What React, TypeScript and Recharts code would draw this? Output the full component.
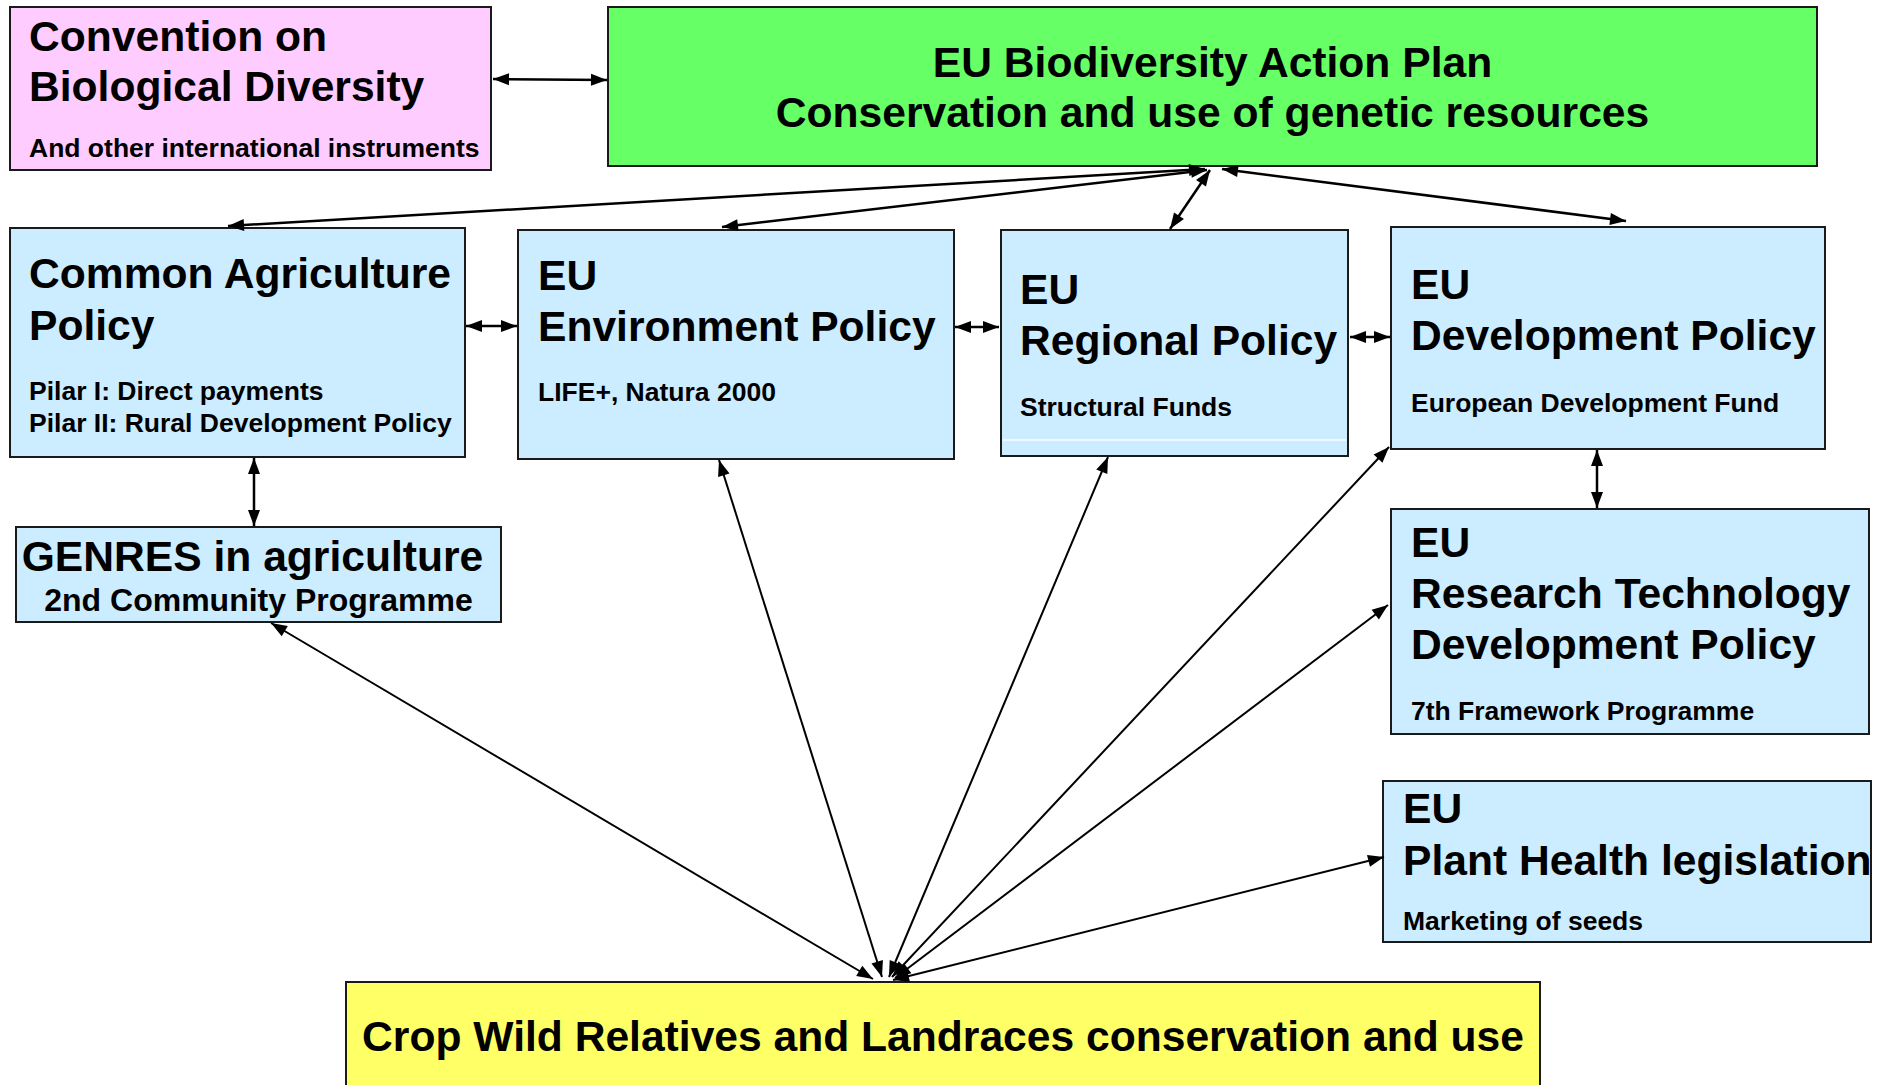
import React from "react";
import { ComposedChart, XAxis, YAxis, ReferenceArea, ReferenceLine } from "recharts";

const W = 1881;
const H = 1085;

// boxes of the diagram, in picture units (x to the right, y downwards)
const boxIds = ["cbd", "bap", "cap", "env", "reg", "dev", "genres", "rtd", "plant", "cwr"];
const boxLeft = [10, 608, 10, 518, 1001, 1391, 16, 1391, 1383, 346];
const boxRight = [491, 1817, 465, 954, 1348, 1825, 501, 1869, 1871, 1540];
const boxTop = [7, 7, 228, 230, 230, 227, 527, 509, 781, 982];
const boxBottom = [170, 166, 457, 459, 456, 449, 622, 734, 942, 1090];

const boxTitles = [
    ["Convention on", "Biological Diversity"],
    ["EU Biodiversity Action Plan", "Conservation and use of genetic resources"],
    ["Common Agriculture", "Policy"],
    ["EU", "Environment Policy"],
    ["EU", "Regional Policy"],
    ["EU", "Development Policy"],
    ["GENRES in agriculture"],
    ["EU", "Research Technology", "Development Policy"],
    ["EU", "Plant Health legislation"],
    ["Crop Wild Relatives and Landraces conservation and use"],
];
const boxNotes = [
    ["And other international instruments"],
    [],
    ["Pilar I: Direct payments", "Pilar II: Rural Development Policy"],
    ["LIFE+, Natura 2000"],
    ["Structural Funds"],
    ["European Development Fund"],
    ["2nd Community Programme"],
    ["7th Framework Programme"],
    ["Marketing of seeds"],
    [],
];

// double-headed links: [x1, y1, x2, y2]
const links = [
    [493, 79, 607, 80],
    [1205, 169, 228, 226],
    [1207, 170, 722, 227],
    [1210, 170, 1170, 229],
    [1222, 169, 1626, 221],
    [466, 326, 517, 326],
    [955, 327, 999, 327],
    [1350, 337, 1390, 337],
    [254, 458, 254, 526],
    [1597, 450, 1597, 508],
];
const spokes = [
    [873, 979, 271, 623],
    [882, 977, 719, 460],
    [889, 977, 1108, 457],
    [892, 977, 1389, 447],
    [895, 978, 1388, 605],
    [893, 980, 1384, 857],
];

// look of each box: fill, text anchor, first baselines and gaps (offsets from box top)
const boxLook: Record<string, any> = {
    cbd: { fill: "#FFCCFF", dx: 19, t0: 44, tg: 50, n0: 150, ng: 32, ns: 26.5 },
    bap: { fill: "#66FF66", center: true, t0: 70, tg: 50, n0: 0, ng: 0, ns: 26.5 },
    cap: { fill: "#CCECFF", dx: 19, t0: 60, tg: 52, n0: 172, ng: 32, ns: 26.5 },
    env: { fill: "#CCECFF", dx: 20, t0: 60, tg: 51, n0: 171, ng: 32, ns: 26.5 },
    reg: { fill: "#CCECFF", dx: 19, t0: 74, tg: 51, n0: 186, ng: 32, ns: 26.5, seam: 210 },
    dev: { fill: "#CCECFF", dx: 20, t0: 72, tg: 51, n0: 185, ng: 32, ns: 26.5 },
    genres: { fill: "#CCECFF", center: true, tdx: -6, t0: 44, tg: 50, n0: 84, ng: 32, ns: 32 },
    rtd: { fill: "#CCECFF", dx: 20, t0: 48, tg: 51, n0: 211, ng: 32, ns: 26.5 },
    plant: { fill: "#CCECFF", dx: 20, t0: 42, tg: 52, n0: 149, ng: 32, ns: 26.5 },
    cwr: { fill: "#FFFF66", center: true, t0: 69, tg: 50, n0: 0, ng: 0, ns: 26.5 },
};

const FONT = "'Liberation Sans', Arial, Helvetica, sans-serif";
const TITLE_SIZE = 42.6;

const makeBox = (i: number) => (p: any) => {
    const { x, y, width, height } = p;
    const look = boxLook[boxIds[i]];
    const tx = look.center ? x + width / 2 : x + look.dx;
    const anchor = look.center ? "middle" : "start";
    return (
        <g>
            <rect x={x} y={y} width={width} height={height} fill={look.fill} stroke="#1a1a1a" strokeWidth={2} />
            {look.seam && (
                <line x1={x + 2} x2={x + width - 2} y1={y + look.seam} y2={y + look.seam} stroke="#ffffff" strokeWidth={1.5} />
            )}
            {boxTitles[i].map((t, k) => (
                <text key={"t" + k} x={tx + (look.tdx || 0)} y={y + look.t0 + k * look.tg} textAnchor={anchor}
                    fontFamily={FONT} fontWeight="bold" fontSize={TITLE_SIZE} fill="#000">
                    {t}
                </text>
            ))}
            {boxNotes[i].map((t, k) => (
                <text key={"n" + k} x={tx} y={y + look.n0 + k * look.ng} textAnchor={anchor}
                    fontFamily={FONT} fontWeight="bold" fontSize={look.ns} fill="#000">
                    {t}
                </text>
            ))}
        </g>
    );
};

const head = (xa: number, ya: number, xb: number, yb: number, len: number, half: number) => {
    // triangle with its tip at (xb, yb), pointing away from (xa, ya)
    const dx = xb - xa;
    const dy = yb - ya;
    const d = Math.sqrt(dx * dx + dy * dy) || 1;
    const ux = dx / d;
    const uy = dy / d;
    const bx = xb - ux * len;
    const by = yb - uy * len;
    return `${xb},${yb} ${bx - uy * half},${by + ux * half} ${bx + uy * half},${by - ux * half}`;
};

const makeArrow = (w: number) => (p: any) => {
    const { x1, y1, x2, y2 } = p;
    return (
        <g>
            <line x1={x1} y1={y1} x2={x2} y2={y2} stroke="#000" strokeWidth={w} />
            <polygon points={head(x1, y1, x2, y2, 16, 6)} fill="#000" />
            <polygon points={head(x2, y2, x1, y1, 16, 6)} fill="#000" />
        </g>
    );
};

const App: React.FunctionComponent = () => {
    return (
        <div style={{ width: W, height: H, background: "#fff" }}>
            <style>{"body{margin:0}"}</style>
            <ComposedChart
                width={W}
                height={H}
                data={[{ x: 0, y: 0 }, { x: W, y: H }]}
                margin={{ top: 0, right: 0, bottom: 0, left: 0 }}
            >
                <XAxis type="number" dataKey="x" domain={[0, W]} hide />
                <YAxis type="number" dataKey="y" domain={[0, H]} reversed hide />
                {boxIds.map((id, i) => (
                    <ReferenceArea
                        key={id}
                        x1={boxLeft[i]}
                        x2={boxRight[i]}
                        y1={boxTop[i]}
                        y2={boxBottom[i]}
                        ifOverflow="visible"
                        shape={makeBox(i)}
                    />
                ))}
                {links.map((l, i) => (
                    <ReferenceLine
                        key={"l" + i}
                        segment={[{ x: l[0], y: l[1] }, { x: l[2], y: l[3] }]}
                        ifOverflow="visible"
                        shape={makeArrow(2.5)}
                    />
                ))}
                {spokes.map((l, i) => (
                    <ReferenceLine
                        key={"s" + i}
                        segment={[{ x: l[0], y: l[1] }, { x: l[2], y: l[3] }]}
                        ifOverflow="visible"
                        shape={makeArrow(2)}
                    />
                ))}
            </ComposedChart>
        </div>
    );
};

export default App;
